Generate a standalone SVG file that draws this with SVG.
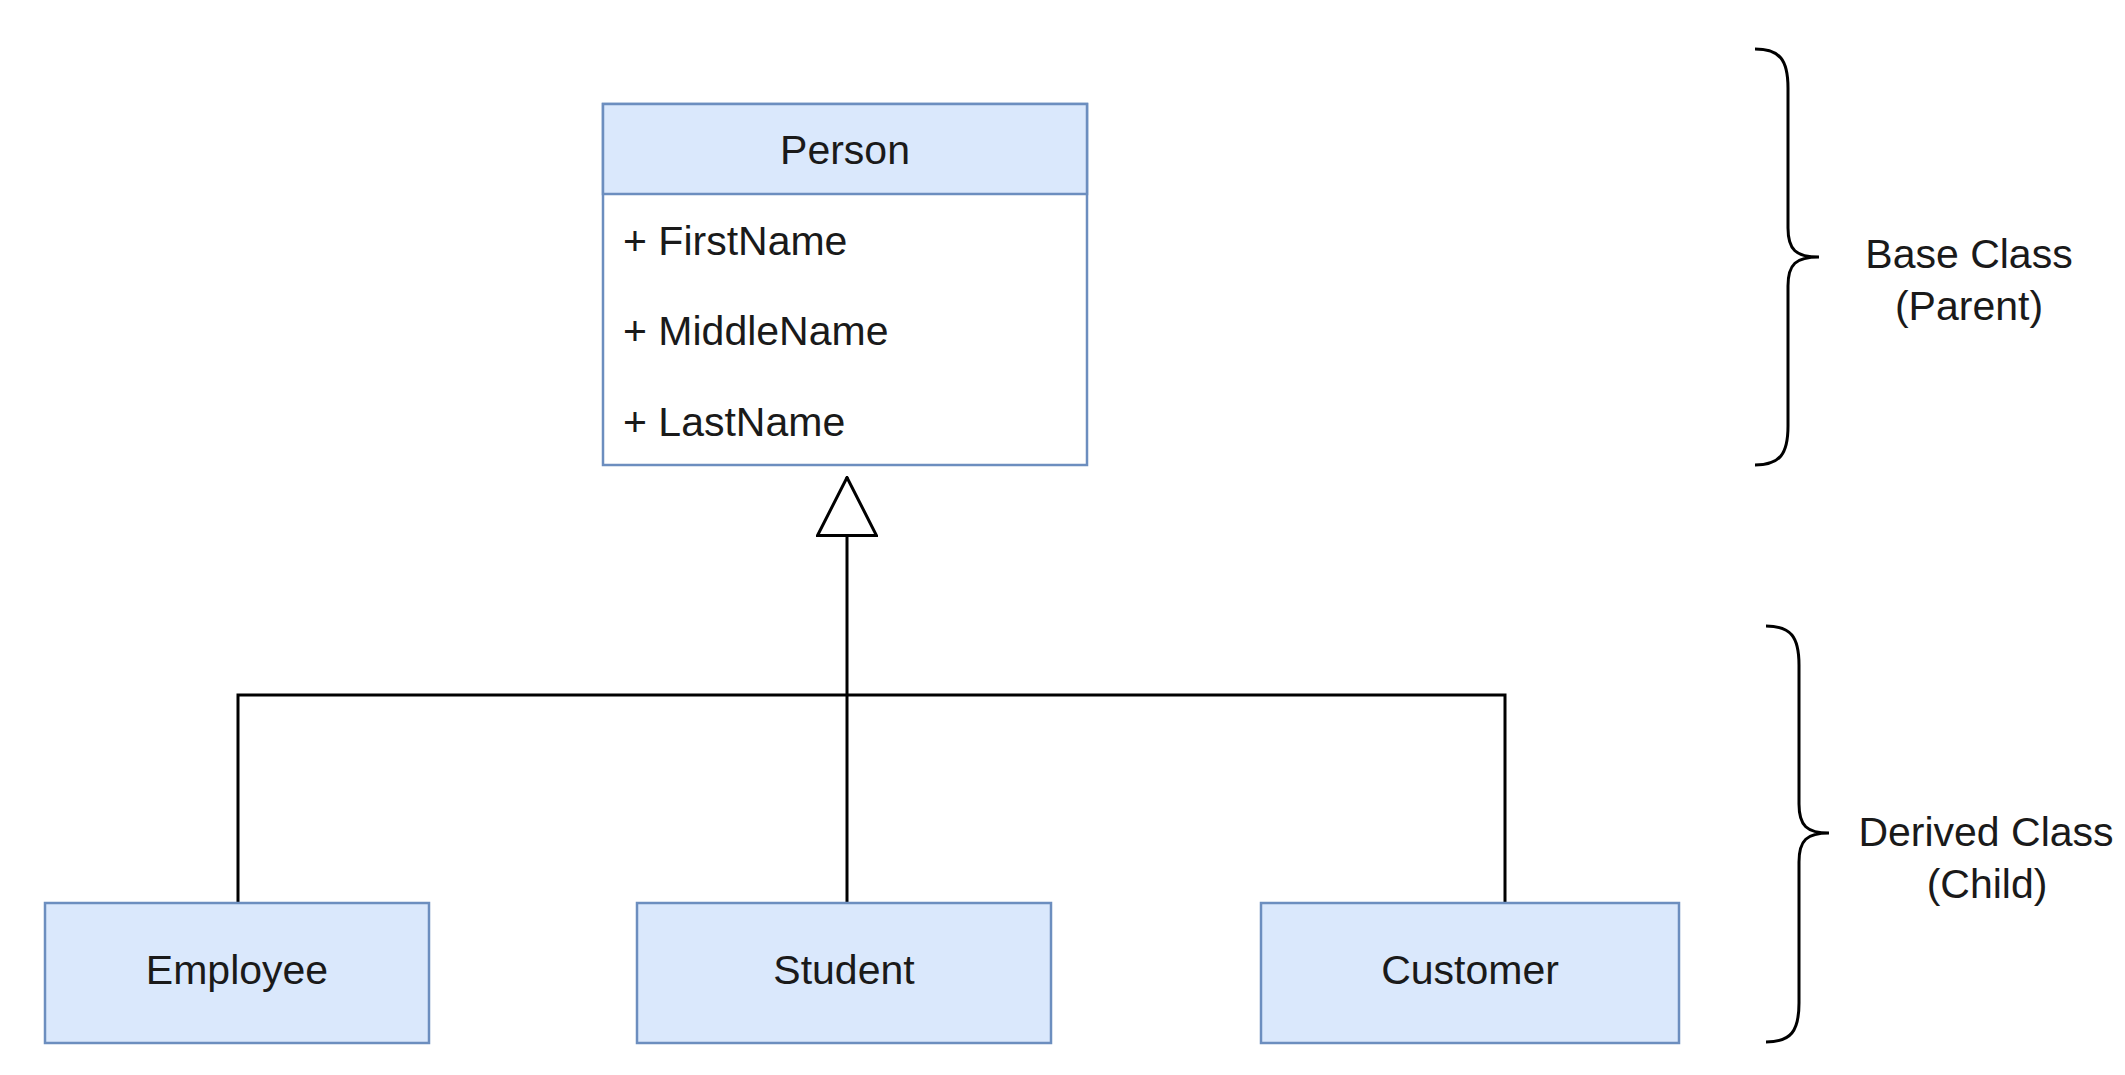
<svg xmlns="http://www.w3.org/2000/svg" width="2125" height="1075" viewBox="0 0 2125 1075">
  <style>
    .box { fill: #dae8fc; stroke: #6c8ebf; stroke-width: 2.5; }
    .body { fill: #ffffff; stroke: #6c8ebf; stroke-width: 2.5; }
    .t { font-family: "Liberation Sans", Arial, sans-serif; font-size: 41px; fill: #1a1a1a; }
    .c { text-anchor: middle; }
    .edge { fill: none; stroke: #000000; stroke-width: 3; }
    .brace { fill: none; stroke: #000000; stroke-width: 3; }
  </style>
  <defs>
    <marker id="inherit" viewBox="0 0 61 62" refX="60" refY="31" markerWidth="61" markerHeight="62" markerUnits="userSpaceOnUse" orient="auto">
      <path d="M1.5,1.5 L59.5,31 L1.5,60.5 Z" fill="#ffffff" stroke="#000000" stroke-width="3"/>
    </marker>
  </defs>
  <rect width="2125" height="1075" fill="#ffffff"/>

  <g id="connectors">
    <path class="edge" d="M238,903 L238,695 L1505,695 L1505,903"/>
    <path class="edge" d="M847,903 L847,477" marker-end="url(#inherit)"/>
  </g>

  <g id="person">
    <rect class="body" x="603" y="104" width="484" height="361"/>
    <rect class="box" x="603" y="104" width="484" height="90"/>
    <text class="t c" x="845" y="164">Person</text>
    <text class="t" x="623" y="255">+ FirstName</text>
    <text class="t" x="623" y="345">+ MiddleName</text>
    <text class="t" x="623" y="436">+ LastName</text>
  </g>

  <g id="employee">
    <rect class="box" x="45" y="903" width="384" height="140"/>
    <text class="t c" x="237" y="984">Employee</text>
  </g>

  <g id="student">
    <rect class="box" x="637" y="903" width="414" height="140"/>
    <text class="t c" x="844" y="984">Student</text>
  </g>

  <g id="customer">
    <rect class="box" x="1261" y="903" width="418" height="140"/>
    <text class="t c" x="1470" y="984">Customer</text>
  </g>

  <g id="base-brace">
    <path class="brace" d="M1755,49 C1780,49 1788,60 1788,88 L1788,228 C1788,250 1796,257 1819,257 C1796,257 1788,264 1788,286 L1788,426 C1788,454 1780,465 1755,465"/>
    <text class="t c" x="1969" y="268">Base Class</text>
    <text class="t c" x="1969" y="320">(Parent)</text>
  </g>

  <g id="derived-brace">
    <path class="brace" d="M1766,626 C1791,626 1799,637 1799,665 L1799,804 C1799,826 1807,833 1829,833 C1807,833 1799,840 1799,862 L1799,1003 C1799,1031 1791,1042 1766,1042"/>
    <text class="t c" x="1986" y="846">Derived Class</text>
    <text class="t c" x="1987" y="898">(Child)</text>
  </g>
</svg>
